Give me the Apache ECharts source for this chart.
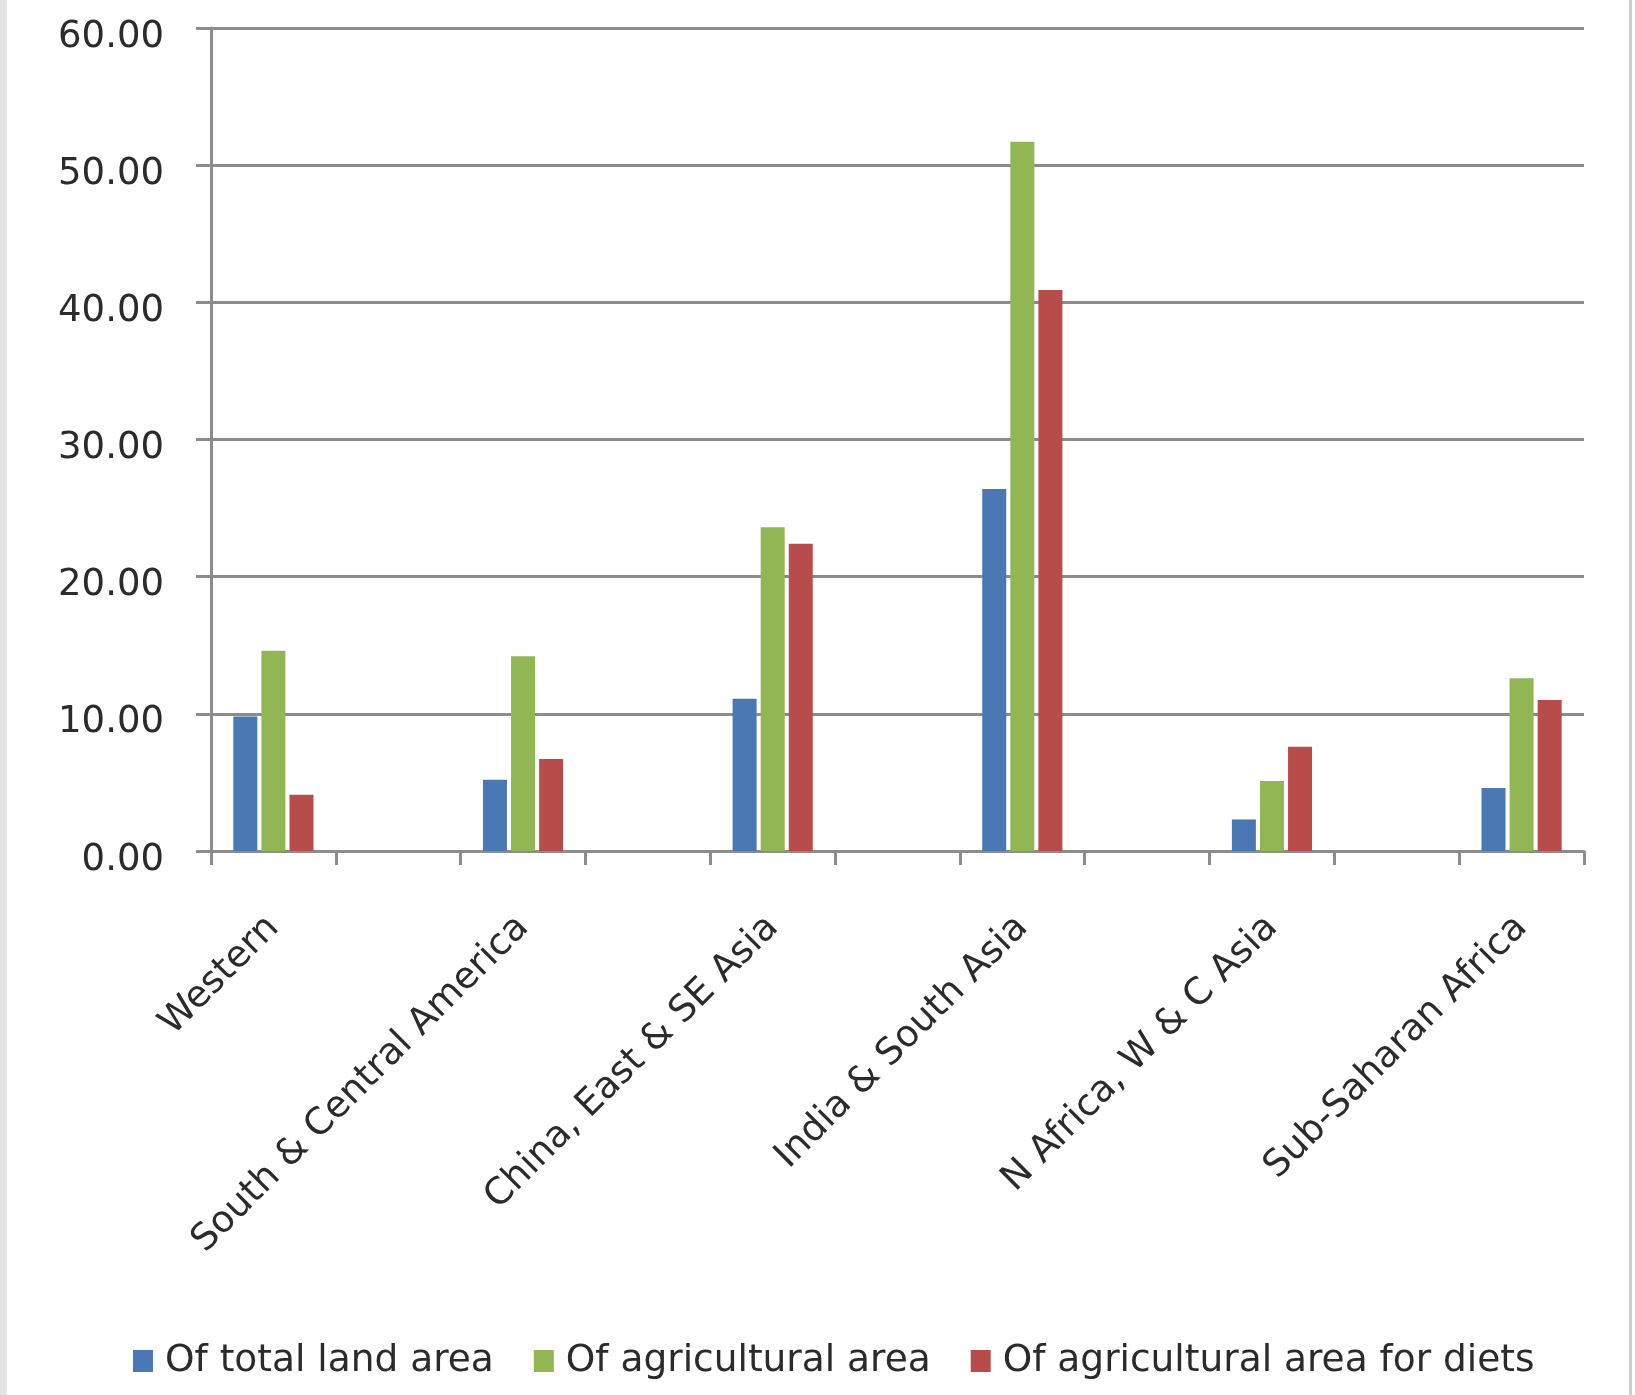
<!DOCTYPE html>
<html>
<head>
<meta charset="utf-8">
<script src="https://cdn.jsdelivr.net/npm/echarts@6/dist/echarts.min.js"></script>
<style>
html,body{margin:0;padding:0;background:#fff;}
#chart{width:1635px;height:1395px;}
</style>
</head>
<body>
<div id="chart"></div>
<script>
const categories = ['Western','South & Central America','China, East & SE Asia','India & South Asia','N Africa, W & C Asia','Sub-Saharan Africa'];
const seriesNames = ['Of total land area','Of agricultural area','Of agricultural area for diets'];
const totalLand = [9.8, 5.2, 11.1, 26.4, 2.3, 4.6];
const agricultural = [14.6, 14.2, 23.6, 51.7, 5.1, 12.6];
const agriDiets = [4.1, 6.7, 22.4, 40.9, 7.6, 11.0];
const yTicks = [0, 10, 20, 30, 40, 50, 60];
const colors = ['#4a78b2', '#93b655', '#b84c4a'];

// The original chart has empty category slots between regions
const xCats = [];
categories.forEach((c, i) => { xCats.push(c); if (i < categories.length - 1) xCats.push(''); });
function spread(arr) {
  const out = [];
  arr.forEach((v, i) => { out.push(v); if (i < arr.length - 1) out.push(null); });
  return out;
}
const seriesData = [totalLand, agricultural, agriDiets];

const font = 'DejaVu Sans';
const chart = echarts.init(document.getElementById('chart'));
chart.setOption({
  animation: false,
  backgroundColor: '#ffffff',
  color: colors,
  graphic: [
    { type: 'rect', left: 0, top: 0, shape: { width: 7, height: 1395 }, style: { fill: '#e4e4e4' }, silent: true },
    { type: 'rect', left: 1629, top: 0, shape: { width: 3, height: 1395 }, style: { fill: '#cfcfcf' }, silent: true }
  ],
  grid: { left: 211, right: 51, top: 28, bottom: 544 },
  legend: {
    left: 128, top: 1337,
    itemWidth: 20, itemHeight: 22, itemGap: 40,
    icon: 'rect',
    textStyle: { fontFamily: font, fontSize: 37.5, color: '#2b2b2b', padding: [0, 0, 0, 7] },
    data: seriesNames
  },
  xAxis: {
    type: 'category',
    data: xCats,
    boundaryGap: true,
    axisLine: { lineStyle: { color: '#8c8c8c', width: 3 } },
    axisTick: { show: true, interval: 0, length: 14, lineStyle: { color: '#8c8c8c', width: 3 } },
    axisLabel: { interval: 0, rotate: 45, margin: 71, fontFamily: font, fontSize: 37, color: '#2b2b2b' }
  },
  yAxis: {
    type: 'value',
    min: yTicks[0], max: yTicks[yTicks.length - 1], interval: 10,
    axisLine: { show: true, lineStyle: { color: '#8c8c8c', width: 3 } },
    axisTick: { show: true, length: 15, lineStyle: { color: '#8c8c8c', width: 3 } },
    splitLine: { lineStyle: { color: '#8c8c8c', width: 3 } },
    axisLabel: { margin: 47, fontFamily: font, fontSize: 37, color: '#2b2b2b',
      verticalAlign: 'top', lineHeight: 18,
      formatter: v => v.toFixed(2) }
  },
  series: seriesNames.map((name, i) => ({
    name: name,
    type: 'bar',
    data: spread(seriesData[i]),
    barWidth: 24,
    barGap: '17%',
    itemStyle: { color: colors[i] }
  }))
});
</script>
</body>
</html>
